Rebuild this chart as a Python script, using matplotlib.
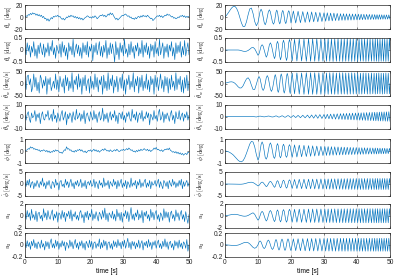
import numpy as np
import matplotlib
matplotlib.use('Agg')
import matplotlib.pyplot as plt

plt.rcParams['font.family'] = 'Liberation Sans'
plt.rcParams['mathtext.fontset'] = 'cm'
plt.rcParams['axes.unicode_minus'] = False

# ---- left column: noisy responses, 151 samples over 0..50 s
t_noise = np.linspace(0, 50, 151)

theta_w_noise = [0, 2, 1, 4, 3, 6, 4, 7, 5, 6,
  3, 5, 2, 4, 1, 3, -1, 1, -3, -2,
  -6, -3, -7, -4, -1, -3, 1, 0, 2, 1,
  3, 0, 1, -2, -4, -2, -5, -3, 0, -1,
  2, 0, 3, 1, 2, -1, 1, -2, 0, -3,
  -1, -4, -2, -5, -3, -1, 0, 2, 1, -1,
  0, -2, 1, -1, 2, 0, -3, -1, 1, 3,
  2, 4, 1, 3, 0, 2, 5, 3, 7, 4,
  6, 2, -1, -4, -2, -5, -3, -1, 1, 3,
  2, 4, 5, 3, 1, 2, -1, 0, -3, -2,
  -4, -1, -3, 0, 1, -1, 2, 0, 3, 1,
  2, 0, 3, 1, -1, -3, -2, -6, -4, -2,
  0, 2, 1, 3, 0, 2, -1, 1, 3, 2,
  5, 3, 4, 2, 0, 1, -2, -1, -3, -2,
  0, -1, 2, 1, 3, 0, 2, -1, 1, 0,
  1]

theta_b_noise = [.1, -.2, .3, -.05, .2, -.3, .15, -.1, .35, -.25,
  .05, -.35, .2, -.15, .3, .0, -.2, .25, -.3, .1,
  -.1, .3, -.25, .15, -.05, .4, -.2, .1, -.35, .2,
  .0, -.15, .25, -.3, .35, -.1, .2, -.25, .1, -.4,
  .3, -.05, .15, -.2, .45, -.3, .05, .25, -.15, .2,
  -.25, .1, -.35, .3, -.1, .2, -.2, .35, -.3, .15,
  -.05, .25, -.45, .2, -.1, .3, -.2, .05, .35, -.25,
  .15, -.3, .2, -.1, .4, -.35, .1, -.2, .3, -.15,
  .25, -.05, -.5, .35, -.2, .1, -.4, .3, -.1, .2,
  -.25, .45, -.15, .05, -.3, .25, -.2, .35, -.1, .15,
  -.35, .2, -.05, .3, -.25, .1, -.15, .4, -.3, .2,
  -.1, .3, -.2, .15, -.35, .25, -.05, .2, -.3, .35,
  -.15, .1, -.25, .45, -.2, .05, .3, -.35, .15, -.1,
  .25, -.3, .2, -.05, .35, -.25, .1, -.4, .3, -.15,
  .2, -.1, .35, -.3, .15, -.2, .4, -.25, .05, .3,
  -.2]

theta_w_dot_noise = [10, -25, 30, 35, -5, 20, -35, -15, 40, -15,
  25, -30, 5, -40, 35, 20, -20, 15, -10, 30,
  -45, 20, -5, 25, -30, -10, 10, -20, 40, -25,
  15, -35, 30, 0, -15, 20, -40, 35, -10, 25,
  -30, 10, -20, 45, -35, 15, -5, 30, -25, 40,
  -15, 20, -45, 25, -10, 35, -30, 5, 20, -40,
  30, -20, 10, -25, 40, -15, 25, -35, 15, -5,
  30, -45, 35, -20, 10, -30, 45, -25, 20, -10,
  35, -40, 15, -15, 30, -35, 5, 25, -20, 40,
  -30, 15, -45, 20, -5, 35, -25, 10, -15, 45,
  -35, 20, -10, 30, -40, 25, -15, 35, -30, 10,
  -20, 40, -25, 15, -35, 30, -5, 20, -45, 35,
  -15, 25, -30, 5, 40, -20, 15, -35, 30, -10,
  25, -40, 20, -25, 35, -15, 10, -30, 45, -25,
  20, -5, 30, -35, 15, -40, 25, -20, 35, -30,
  10]

theta_b_dot_noise = [1, -3, 2, 4, -2, -5, 3, -1, 0, 5,
  -4, 2, -1, 3, -6, 1, 4, -2, -3, 2,
  0, 5, -3, -1, 2, -4, 6, -2, 1, -5,
  3, -1, -4, 2, 5, -3, 0, 4, -7, 2,
  -2, 3, 1, -5, 4, -1, -3, 6, -2, 0,
  3, -4, 2, -2, 5, -6, 1, 3, -1, -4,
  4, 0, -3, 5, -2, 2, -5, 1, 4, -3,
  -1, 7, -4, 2, -2, 3, -5, 0, 4, -3,
  2, -1, 5, -4, 1, -6, 3, 2, -2, 4,
  -3, 1, -5, 3, 0, 4, -2, -4, 6, -1,
  2, -3, 4, -5, 1, 3, -2, 5, -4, 0,
  -2, 4, -1, 3, -7, 2, 0, -3, 5, -2,
  1, -4, 3, 6, -3, -1, 4, -5, 2, -2,
  3, 0, -4, 2, 5, -3, 1, -6, 4, -1,
  -2, 5, -3, 1, 3, -4, 2, -1, 4, -3,
  1]

phi_noise = [0, .05, .1, .2, .15, .35, .25, .3, .15, .2,
  .1, .15, .05, .1, -.05, .05, 0, .1, .05, -.05,
  .05, -.1, 0, -.15, -.05, -.1, .05, -.05, .1, 0,
  .05, -.05, -.15, -.1, -.2, -.05, .1, .05, .35, .15,
  .2, .05, .1, -.05, 0, -.1, .05, -.05, .1, .05,
  .15, 0, .1, -.05, -.1, 0, -.15, -.05, .05, 0,
  .1, -.05, .05, .15, 0, .1, -.05, .05, -.1, 0,
  .05, .15, .05, .2, .1, 0, .05, -.05, .1, 0,
  -.05, .05, .1, 0, .15, .05, -.05, 0, .1, .05,
  .15, .05, .1, .2, .1, .25, .15, .05, .1, -.05,
  0, -.1, .05, -.05, .1, 0, .15, .05, .1, .2,
  .1, .05, .15, 0, .1, -.05, .05, .1, .25, .15,
  .3, .1, .15, .05, 0, .1, -.05, .05, .15, .1,
  .2, .1, .25, .05, 0, -.1, -.05, -.15, -.05, -.2,
  -.1, -.25, -.15, -.3, -.2, -.35, -.25, -.2, -.3, -.1,
  -.15]

phi_dot_noise = [.5, -1, 1.5, -.5, 2, -1.5, .5, 1, -2, .5,
  -1, 1.5, 0, -1.5, 1, -.5, 2.5, -1, .5, -2,
  1, -.5, 1.5, -1, -2, 1, .5, -1.5, 2, -.5,
  .5, -2.5, 1, 1.5, -1, 0, -1.5, 2, -.5, 1,
  -1.5, .5, 2, -1, .5, -2, 1, -.5, 1.5, -1,
  0, 2, -1.5, .5, -1, 1.5, -2, .5, 1, -.5,
  1.5, -1, -.5, 2, -1.5, 1, 0, -2, 1.5, -.5,
  .5, -1.5, 2.5, -1, .5, -.5, 1.5, -2, 1, 0,
  -1, 2, -.5, 1, -2, 1.5, -1, .5, 2, -1.5,
  .5, -1, 1.5, -2, 1, 0, -1.5, 2.5, -1, .5,
  -.5, 1.5, -2, 1, -.5, 2, -1.5, .5, -1, 1,
  2, -1.5, .5, -1, 1.5, -2, 1, -.5, 0, 1.5,
  -1, .5, 2, -1.5, 1, -.5, -2, 1.5, .5, -1,
  1, -2, 1.5, 0, -1, 2, -.5, 1, -1.5, .5,
  -1, 1.5, -.5, 2, -2, 1, -1, .5, 1.5, -1,
  .5]

u1_noise = [.3, -.6, .9, -.2, .5, -.8, 1.1, -.4, .2, -.7,
  .8, -1, .4, .6, -.5, .1, -.9, 1.2, -.3, .5,
  -.7, .9, -.2, -.6, .4, 1, -.8, .3, -.4, .7,
  -1.1, .5, .2, -.6, .9, -.3, .6, -1, .4, -.1,
  .8, -.5, 1, -.9, .3, -.2, .7, -.6, .1, -.8,
  .5, .9, -.4, .2, -1.2, .6, -.3, .8, -.7, .4,
  -.2, 1.1, -.8, .3, -.5, .7, -.1, -.9, .6, .2,
  -.6, .9, -.3, 1.3, -.7, .4, -1, .5, .1, -.4,
  .8, -.6, .3, -.9, 1.1, -.2, .5, -.8, .6, -1.1,
  .4, -.1, .9, -.5, .7, -1, .2, 1.4, -.6, .3,
  -.8, .5, -.2, 1, -.7, .3, -.4, .9, -1.2, .6,
  -.1, .8, -.5, .2, -.9, 1.1, -.3, .6, -.7, .4,
  .9, -.6, .2, -1, .5, .1, -.8, 1.2, -.4, .7,
  -.3, .6, -1.1, .4, .8, -.5, .2, -.9, 1, -.2,
  .5, -.8, .3, .9, -.6, .2, -1, .7, -.4, -1.3,
  .2]

u2_noise = [.02, -.05, .07, -.03, .04, -.08, .06, -.02, .09, -.05,
  .03, -.07, .05, .01, -.06, .08, -.04, .02, -.09, .06,
  -.03, .05, -.07, .04, .1, -.05, .02, -.06, .08, -.03,
  .06, -.08, .03, -.04, .07, -.02, .05, -.1, .04, .01,
  -.06, .08, -.03, .05, -.07, .02, .09, -.05, .03, -.08,
  .05, -.02, .07, -.06, .03, -.09, .06, .01, -.05, .08,
  -.04, .06, -.08, .03, .05, -.06, .02, -.03, .1, -.07,
  .04, -.05, .08, -.02, .06, -.09, .03, .05, -.06, .02,
  -.08, .07, -.03, .05, -.05, .09, -.02, .04, -.07, .06,
  -.03, .08, -.06, .02, .11, -.05, .04, -.08, .06, -.02,
  .05, -.07, .03, -.04, .08, -.06, .02, .07, -.09, .04,
  -.02, .06, -.05, .09, -.03, .04, -.08, .05, -.01, .07,
  -.06, .03, .08, -.05, .02, -.07, .06, -.03, .1, -.04,
  .05, -.08, .03, .06, -.05, .02, -.09, .07, -.02, .05,
  -.06, .08, -.04, .03, -.07, .05, .02, -.06, .09, -.11,
  0]

# ---- right column: sweep responses (denser sampling as the sweep speeds up)
t_sweep = np.concatenate([
  np.linspace(0, 9.5, 20),
  np.linspace(10, 15, 16, endpoint=False),
  np.linspace(15, 20, 22, endpoint=False),
  np.linspace(20, 25, 14, endpoint=False),
  np.linspace(25, 30, 16, endpoint=False),
  np.linspace(30, 35, 20, endpoint=False),
  np.linspace(35, 40, 22, endpoint=False),
  np.linspace(40, 45, 24, endpoint=False),
  np.linspace(45, 50, 29)])

theta_w_sweep = [0, 3.2, 7, 11.2, 15, 17.5, 17.8, 14.6, 8.2, -.9,
  -10.2, -16.1, -15.7, -8.2, 3.6, 13.5, 14.9, 5.9, -7.5, -14.6,
  -9.2, 0, 9.2, 13, 9.2, 0, -9.2, -13,
  -8.5, 0, 8.5, 12, 8.5, 0, -8.5, -12,
  -8.2, 0, 8.2, 11.5, 8.2, 0, -8.2, -11.5,
  -7.8, 0, 7.8, 11, 7.8, 0, -7.8, -11,
  -7.4, 0, 7.4, 10.5, 7.4, 0,
  -10, 0, 10, 0, -10, 0, 9.5, 0, -9.5, 0, 9, 0, -9, 0,
  8.5, 0, -8.5, 0, 8.5, 0, -8, 0, 8, 0, -8, 0, 7.5, 0, -7.5, 0,
  7, 0, -7, 0, 7, 0, -6.5, 0, 6.5, 0, -6.5, 0, 6.5, 0, -6, 0, 6, 0, -6, 0,
  5.5, 0, -5.5, 0, 5.5, 0, -5.5, 0, 5.3, 0, -5.3, 0, 5.2, 0, -5.2, 0, 5, 0, -5, 0, 5, 0,
  -4.8, 0, 4.8, 0, -4.7, 0, 4.7, 0, -4.5, 0, 4.5, 0, -4.4, 0, 4.4, 0, -4.3, 0, 4.3, 0, -4.2, 0, 4.2, 0,
  -4, 0, 4, 0, -4, 0, 3.9, 0, -3.9, 0, 3.8, 0, -3.8, 0, 3.7, 0, -3.7, 0, 3.6, 0, -3.6, 0, 3.5, 0, -3.5, 0, 3.5, 0, -3.5]

theta_b_sweep = [0, 0, 0, 0, 0, 0, 0, 0, 0, -.01,
  -.03, -.05, -.06, -.05, -.02, .03, .09, .11, .05, -.08,
  -.22, -.16, 0, .16, .22, .16, 0, -.16,
  -.3, -.21, 0, .21, .3, .21, 0, -.21,
  -.36, -.26, 0, .26, .36, .26, 0, -.26,
  -.41, -.29, 0, .29, .41, .29, 0, -.29,
  -.44, -.31, 0, .31, .44, .31,
  0, -.45, 0, .45, 0, -.46, 0, .46, 0, -.46, 0, .46, 0, -.47,
  0, .47, 0, -.47, 0, .47, 0, -.47, 0, .47, 0, -.47, 0, .47, 0, -.47,
  0, .47, 0, -.47, 0, .48, 0, -.47, 0, .47, 0, -.48, 0, .47, 0, -.47, 0, .48, 0, -.47,
  0, .47, 0, -.48, 0, .47, 0, -.47, 0, .48, 0, -.47, 0, .47, 0, -.48, 0, .47, 0, -.47, 0, .47,
  0, -.48, 0, .47, 0, -.47, 0, .48, 0, -.47, 0, .47, 0, -.48, 0, .47, 0, -.47, 0, .48, 0, -.47, 0, .47,
  0, -.47, 0, .48, 0, -.47, 0, .47, 0, -.48, 0, .47, 0, -.47, 0, .48, 0, -.47, 0, .47, 0, -.48, 0, .47, 0, -.47, 0, .48, 0]

theta_w_dot_sweep = [1, 3, 5, 6.5, 7, 5.5, 1, -6, -14, -19,
  -18, -9, 6, 19, 24, 14, -7, -25, -25, -3,
  20.6, 29, 20.6, 0, -20.6, -29, -20.6, 0,
  23.4, 33, 23.4, 0, -23.4, -33, -23.4, 0,
  26.3, 37, 26.3, 0, -26.3, -37, -26.3, 0,
  28.4, 40, 28.4, 0, -28.4, -40, -28.4, 0,
  29.8, 42, 29.8, 0, -29.8, -42,
  0, 43, 0, -43, 0, 44, 0, -44, 0, 44, 0, -45, 0, 45,
  0, -45, 0, 45, 0, -45, 0, 45, 0, -45, 0, 45, 0, -45, 0, 45,
  0, -45, 0, 44, 0, -45, 0, 45, 0, -44, 0, 45, 0, -45, 0, 44, 0, -45, 0, 45,
  0, -44, 0, 45, 0, -44, 0, 44, 0, -45, 0, 44, 0, -44, 0, 45, 0, -44, 0, 44, 0, -44,
  0, 44, 0, -44, 0, 43, 0, -44, 0, 44, 0, -43, 0, 44, 0, -44, 0, 43, 0, -44, 0, 44, 0, -43,
  0, 43, 0, -44, 0, 43, 0, -43, 0, 44, 0, -43, 0, 43, 0, -44, 0, 43, 0, -43, 0, 44, 0, -43, 0, 43, 0, -43, 0]

theta_b_dot_sweep = [0, 0, 0, 0, 0, 0, 0, 0, 0, 0,
  -.02, -.04, -.02, .02, .07, .14, .14, -.02, -.24, -.4,
  0, .21, .3, .21, 0, -.21, -.3, -.21,
  0, .28, .4, .28, 0, -.28, -.4, -.28,
  0, .35, .5, .35, 0, -.35, -.5, -.35,
  0, .42, .6, .42, 0, -.42, -.6, -.42,
  0, .5, .7, .5, 0, -.5,
  -.8, 0, .85, 0, -.9, 0, .95, 0, -1, 0, 1.05, 0, -1.1, 0,
  1.2, 0, -1.25, 0, 1.3, 0, -1.4, 0, 1.45, 0, -1.5, 0, 1.6, 0, -1.65, 0,
  1.7, 0, -1.8, 0, 1.85, 0, -1.9, 0, 2, 0, -2.05, 0, 2.1, 0, -2.2, 0, 2.25, 0, -2.3, 0,
  2.4, 0, -2.45, 0, 2.5, 0, -2.55, 0, 2.6, 0, -2.65, 0, 2.7, 0, -2.75, 0, 2.8, 0, -2.85, 0, 2.9, 0,
  -2.95, 0, 3, 0, -3.05, 0, 3.1, 0, -3.15, 0, 3.2, 0, -3.25, 0, 3.3, 0, -3.35, 0, 3.4, 0, -3.45, 0, 3.5, 0,
  -3.5, 0, 3.55, 0, -3.6, 0, 3.65, 0, -3.7, 0, 3.7, 0, -3.75, 0, 3.8, 0, -3.8, 0, 3.85, 0, -3.9, 0, 3.9, 0, -3.95, 0, 4, 0, -4]

phi_sweep = [0, -.02, -.06, -.13, -.22, -.33, -.48, -.63, -.78, -.88,
  -.9, -.8, -.55, -.2, .2, .58, .8, .75, .35, -.3,
  -.76, -.54, 0, .54, .76, .54, 0, -.54,
  -.68, -.48, 0, .48, .68, .48, 0, -.48,
  -.62, -.44, 0, .44, .62, .44, 0, -.44,
  -.57, -.4, 0, .4, .57, .4, 0, -.4,
  -.53, -.38, 0, .38, .53, .38,
  0, -.52, 0, .51, 0, -.5, 0, .49, 0, -.48, 0, .47, 0, -.46,
  0, .45, 0, -.44, 0, .43, 0, -.42, 0, .41, 0, -.4, 0, .39, 0, -.38,
  0, .38, 0, -.37, 0, .37, 0, -.36, 0, .36, 0, -.35, 0, .35, 0, -.34, 0, .34, 0, -.33,
  0, .33, 0, -.32, 0, .32, 0, -.31, 0, .31, 0, -.3, 0, .3, 0, -.3, 0, .29, 0, -.29, 0, .29,
  0, -.28, 0, .28, 0, -.28, 0, .27, 0, -.27, 0, .27, 0, -.26, 0, .26, 0, -.26, 0, .26, 0, -.25, 0, .25,
  0, -.25, 0, .25, 0, -.25, 0, .24, 0, -.24, 0, .24, 0, -.24, 0, .23, 0, -.23, 0, .23, 0, -.23, 0, .22, 0, -.22, 0, .22, 0]

phi_dot_sweep = [0, 0, 0, 0, -.02, -.04, -.06, -.08, -.1, -.1,
  -.08, 0, .15, .35, .55, .7, .75, .6, .2, -.3,
  -.8, -.57, 0, .57, .8, .57, 0, -.57,
  -1.1, -.78, 0, .78, 1.1, .78, 0, -.78,
  -1.4, -.99, 0, .99, 1.4, .99, 0, -.99,
  -1.6, -1.14, 0, 1.14, 1.6, 1.14, 0, -1.14,
  -1.75, -1.24, 0, 1.24, 1.75, 1.24,
  0, -1.85, 0, 1.9, 0, -1.9, 0, 1.95, 0, -1.95, 0, 2, 0, -2,
  0, 2, 0, -2, 0, 2.05, 0, -2.05, 0, 2.05, 0, -2.1, 0, 2.1, 0, -2.1,
  0, 2.1, 0, -2.1, 0, 2.1, 0, -2.15, 0, 2.15, 0, -2.15, 0, 2.15, 0, -2.2, 0, 2.2, 0, -2.2,
  0, 2.2, 0, -2.2, 0, 2.2, 0, -2.2, 0, 2.25, 0, -2.25, 0, 2.25, 0, -2.25, 0, 2.25, 0, -2.25, 0, 2.3,
  0, -2.3, 0, 2.3, 0, -2.3, 0, 2.3, 0, -2.3, 0, 2.3, 0, -2.3, 0, 2.3, 0, -2.3, 0, 2.3, 0, -2.3, 0, 2.3,
  0, -2.3, 0, 2.3, 0, -2.3, 0, 2.3, 0, -2.3, 0, 2.3, 0, -2.3, 0, 2.3, 0, -2.3, 0, 2.3, 0, -2.3, 0, 2.3, 0, -2.3, 0, 2.3, 0]

u1_sweep = [0, .03, .08, .14, .2, .24, .25, .22, .16, .08,
  0, -.06, -.08, -.05, .05, .2, .38, .5, .25, -.3,
  -.75, -.53, 0, .53, .75, .53, 0, -.53,
  -.9, -.64, 0, .64, .9, .64, 0, -.64,
  -1, -.71, 0, .71, 1, .71, 0, -.71,
  -1.05, -.75, 0, .75, 1.05, .75, 0, -.75,
  -1.1, -.78, 0, .78, 1.1, .78,
  0, -1.1, 0, 1.1, 0, -1.1, 0, 1.12, 0, -1.12, 0, 1.12, 0, -1.14,
  0, 1.14, 0, -1.14, 0, 1.15, 0, -1.15, 0, 1.15, 0, -1.15, 0, 1.15, 0, -1.15,
  0, 1.15, 0, -1.15, 0, 1.16, 0, -1.16, 0, 1.16, 0, -1.16, 0, 1.17, 0, -1.17, 0, 1.17, 0, -1.17,
  0, 1.17, 0, -1.18, 0, 1.18, 0, -1.18, 0, 1.18, 0, -1.18, 0, 1.19, 0, -1.19, 0, 1.19, 0, -1.19, 0, 1.19,
  0, -1.19, 0, 1.2, 0, -1.2, 0, 1.2, 0, -1.2, 0, 1.2, 0, -1.2, 0, 1.2, 0, -1.2, 0, 1.2, 0, -1.2, 0, 1.2,
  0, -1.2, 0, 1.2, 0, -1.2, 0, 1.2, 0, -1.2, 0, 1.2, 0, -1.2, 0, 1.2, 0, -1.2, 0, 1.2, 0, -1.2, 0, 1.2, 0, -1.2, 0, 1.2, 0]

u2_sweep = [0, -.002, -.005, -.008, -.01, -.012, -.012, -.01, -.005, .005,
  .018, .03, .04, .042, .035, .015, -.015, -.045, -.06, -.045,
  0, .046, .065, .046, 0, -.046, -.065, -.046,
  0, .057, .08, .057, 0, -.057, -.08, -.057,
  0, .064, .09, .064, 0, -.064, -.09, -.064,
  0, .069, .097, .069, 0, -.069, -.097, -.069,
  0, .071, .1, .071, 0, -.071,
  -.1, 0, .1, 0, -.1, 0, .102, 0, -.102, 0, .104, 0, -.104, 0,
  .105, 0, -.105, 0, .105, 0, -.106, 0, .106, 0, -.106, 0, .107, 0, -.107, 0,
  .107, 0, -.107, 0, .108, 0, -.108, 0, .108, 0, -.108, 0, .109, 0, -.109, 0, .109, 0, -.109, 0,
  .11, 0, -.11, 0, .11, 0, -.11, 0, .11, 0, -.11, 0, .11, 0, -.11, 0, .11, 0, -.11, 0, .11, 0,
  -.11, 0, .11, 0, -.11, 0, .11, 0, -.11, 0, .11, 0, -.11, 0, .11, 0, -.11, 0, .11, 0, -.11, 0, .11, 0,
  -.11, 0, .11, 0, -.11, 0, .11, 0, -.11, 0, .11, 0, -.11, 0, .11, 0, -.11, 0, .11, 0, -.11, 0, .11, 0, -.11, 0, .11, 0, -.11]

ylabels = [r'$\theta_w\ [\mathrm{deg}]$', r'$\theta_b\ [\mathrm{deg}]$',
           r'$\dot{\theta}_w\ [\mathrm{deg/s}]$', r'$\dot{\theta}_b\ [\mathrm{deg/s}]$',
           r'$\phi\ [\mathrm{deg}]$', r'$\dot{\phi}\ [\mathrm{deg/s}]$',
           r'$u_1$', r'$u_2$']
ylims = [20, 0.5, 50, 10, 1, 5, 2, 0.2]
ytick_labels = [['-20', '0', '20'], ['-0.5', '0', '0.5'], ['-50', '0', '50'],
                ['-10', '0', '10'], ['-1', '0', '1'], ['-5', '0', '5'],
                ['-2', '0', '2'], ['-0.2', '0', '0.2']]
xticks = [0, 10, 20, 30, 40, 50]

left_series = [theta_w_noise, theta_b_noise, theta_w_dot_noise, theta_b_dot_noise,
               phi_noise, phi_dot_noise, u1_noise, u2_noise]
right_series = [theta_w_sweep, theta_b_sweep, theta_w_dot_sweep, theta_b_dot_sweep,
                phi_sweep, phi_dot_sweep, u1_sweep, u2_sweep]

W, H = 395, 276
fig = plt.figure(figsize=(W / 100, H / 100), dpi=100)

row_top = [5, 38, 71.5, 104.5, 139, 172, 204, 233]
row_h = [24, 24, 24, 24, 24, 24, 23.5, 23.5]
col_x = [(25, 164, -0.068), (225, 165, -0.11)]
line_color = '#0072BD'

for c, (x0, w, lab_x) in enumerate(col_x):
  t = t_noise if c == 0 else t_sweep
  data = left_series if c == 0 else right_series
  for i in range(8):
    ax = fig.add_axes([x0 / W, 1 - (row_top[i] + row_h[i]) / H, w / W, row_h[i] / H])
    ax.plot(t, data[i], color=line_color, lw=0.45)
    ax.set_xlim(0, 50)
    ax.set_ylim(-ylims[i], ylims[i])
    ax.set_yticks([-ylims[i], 0, ylims[i]])
    ax.set_yticklabels(ytick_labels[i])
    ax.set_xticks(xticks)
    ax.grid(axis='x', color='#dcdcdc', lw=0.5)
    ax.set_axisbelow(True)
    ax.tick_params(labelsize=4.8, direction='in', length=1.5, width=0.4, pad=1.5,
                   top=True, right=True, colors='#262626')
    for s in ax.spines.values():
      s.set_linewidth(0.5)
      s.set_color('#262626')
    ax.set_ylabel(ylabels[i], fontsize=4.5)
    ax.yaxis.set_label_coords(lab_x, 0.5)
    if i < 7:
      ax.set_xticklabels([])
    else:
      ax.set_xticklabels([str(v) for v in xticks])
      ax.set_xlabel('time [s]', fontsize=4.8, labelpad=1.5)

fig.savefig('out.png', dpi=100)
